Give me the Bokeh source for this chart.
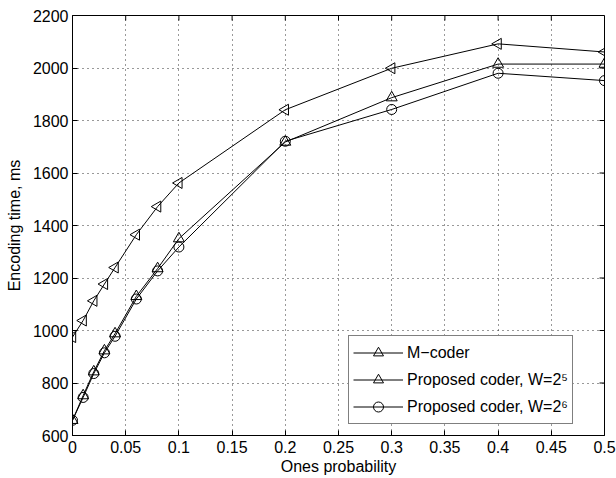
import math
from bokeh.plotting import figure
from bokeh.models import FixedTicker, Range1d, Legend, LegendItem, ColumnDataSource
from bokeh.embed import file_html
from bokeh.resources import INLINE

# ---- data ----
probability = [0, 0.01, 0.02, 0.03, 0.04, 0.06, 0.08, 0.1, 0.2, 0.3, 0.4, 0.5]
m_coder = [975, 1038, 1113, 1177, 1240, 1365, 1472, 1562, 1841, 1999, 2092, 2061]
proposed_w5 = [658, 752, 843, 923, 988, 1130, 1236, 1350, 1718, 1887, 2015, 2015]
proposed_w6 = [658, 745, 836, 915, 978, 1120, 1227, 1318, 1721, 1842, 1980, 1952]

series_names = ["M\u2212coder", "Proposed coder, W=2\u2075", "Proposed coder, W=2\u2076"]

x_ticks = [0, 0.05, 0.1, 0.15, 0.2, 0.25, 0.3, 0.35, 0.4, 0.45, 0.5]
x_tick_labels = ["0", "0.05", "0.1", "0.15", "0.2", "0.25", "0.3", "0.35", "0.4", "0.45", "0.5"]
y_ticks = [600, 800, 1000, 1200, 1400, 1600, 1800, 2000, 2200]
y_tick_labels = ["600", "800", "1000", "1200", "1400", "1600", "1800", "2000", "2200"]

x_title = "Ones probability"
y_title = "Encoding time, ms"

FONT = "Liberation Sans"
FS = "16px"

p = figure(width=616, height=478, output_backend="svg", toolbar_location=None,
           x_range=Range1d(x_ticks[0], x_ticks[-1]), y_range=Range1d(y_ticks[0], y_ticks[-1]),
           min_border_left=72, min_border_right=12, min_border_top=15, min_border_bottom=43)
p.background_fill_color = "white"
p.border_fill_color = "white"
p.outline_line_color = "black"
p.outline_line_width = 1

for ax, ticks, labels in ((p.xaxis[0], x_ticks, x_tick_labels), (p.yaxis[0], y_ticks, y_tick_labels)):
    ax.ticker = FixedTicker(ticks=ticks)
    ax.major_label_overrides = {t: l for t, l in zip(ticks, labels)}
    ax.minor_tick_line_color = None
    ax.major_tick_in = 5
    ax.major_tick_out = 0
    ax.major_tick_line_color = "black"
    ax.axis_line_color = "black"
    ax.major_label_text_font = FONT
    ax.major_label_text_font_size = FS
    ax.major_label_text_color = "black"
    ax.axis_label_text_font = FONT
    ax.axis_label_text_font_size = FS
    ax.axis_label_text_font_style = "normal"
    ax.axis_label_text_color = "black"

p.xaxis[0].axis_label = x_title
p.yaxis[0].axis_label = y_title
p.xaxis[0].major_label_standoff = 5
p.xaxis[0].axis_label_standoff = 2
p.yaxis[0].major_label_standoff = 4
p.yaxis[0].axis_label_standoff = 7

# inner ticks on the top and right sides of the box (no texts)
p.ray(x=x_ticks, y=y_ticks[-1], length=5, length_units="screen", angle=-math.pi / 2,
      line_color="black", line_width=1)
p.ray(x=x_ticks[-1], y=y_ticks, length=5, length_units="screen", angle=math.pi,
      line_color="black", line_width=1)

p.xgrid.ticker = FixedTicker(ticks=x_ticks)
p.ygrid.ticker = FixedTicker(ticks=y_ticks)
for g in (p.xgrid[0], p.ygrid[0]):
    g.grid_line_color = "#333333"
    g.grid_line_dash = "1 4"
    g.grid_line_width = 1

items = []
specs = [(m_coder, "triangle", math.pi / 2, 11), (proposed_w5, "triangle", 0.0, 11), (proposed_w6, "circle", 0.0, 10)]
for (vals, marker, ang, sz), name in zip(specs, series_names):
    src = ColumnDataSource(dict(x=probability, y=vals, a=[ang] * len(vals)))
    l = p.line("x", "y", source=src, line_color="black", line_width=1)
    s = p.scatter("x", "y", source=src, marker=marker, angle="a", size=sz,
                  fill_color=None, line_color="black", line_width=1)
    items.append(LegendItem(label=name, renderers=[l, s], index=0))

legend = Legend(items=items, location=(276, 11))
legend.margin = 0
legend.padding = 4
legend.spacing = 2
legend.glyph_width = 50
legend.glyph_height = 25
legend.label_height = 25
legend.label_standoff = 4
legend.label_text_font = FONT
legend.label_text_font_size = FS
legend.label_text_color = "black"
legend.border_line_color = "black"
legend.border_line_width = 1
legend.background_fill_color = "white"
legend.background_fill_alpha = 1
p.add_layout(legend)

open("out.html", "w").write(file_html(p, INLINE))
